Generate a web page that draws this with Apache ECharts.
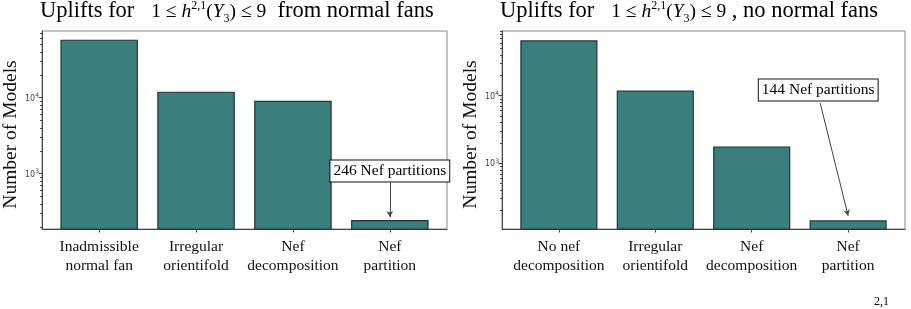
<!DOCTYPE html>
<html>
<head>
<meta charset="utf-8">
<script src="https://cdn.jsdelivr.net/npm/echarts@6/dist/echarts.min.js"></script>
<style>
html,body{margin:0;padding:0;background:#fff;}
#chart{width:911px;height:309px;}
</style>
</head>
<body>
<div id="chart"></div>
<script>
// 数据
var leftCats = ['Inadmissible\nnormal fan', 'Irregular\norientifold', 'Nef\ndecomposition', 'Nef\npartition'];
var leftVals = [58000, 12000, 9100, 246];
var rightCats = ['No nef\ndecomposition', 'Irregular\norientifold', 'Nef\ndecomposition', 'Nef\npartition'];
var rightVals = [66000, 11900, 1780, 144];
var majorTicks = [1000, 10000];
var leftNote = '246 Nef partitions';
var rightNote = '144 Nef partitions';

// 坐标范围 / 注释位置
var xMin = -0.59, xMax = 3.59;
var leftRange = [187, 75400];
var rightRange = [107, 90600];

var serif = '"Liberation Serif", "DejaVu Serif", serif';
var teal = '#3a7f7c';

// 次刻度 2..9 x 10^n
function minorTicks(range){
    var arr = [];
    for (var p = 1; p <= 5; p++) {
        for (var k = 2; k <= 9; k++) {
            var v = k * Math.pow(10, p);
            if (v > range[0] && v < range[1]) arr.push(v);
        }
    }
    return arr;
}

function titleText(tail){
    return '{n|Uplifts for   }{m|1 ≤ }{i|h}{sup|2,1}{m|(}{i|Y}{sub|3}{m|) ≤ 9}{n|' + tail + '}';
}
var titleRich = {
    n: {fontFamily: serif, fontSize: 22.5, fontWeight: 'normal', color: '#000', verticalAlign: 'bottom', padding: [0, 0, 3, 0]},
    m: {fontFamily: serif, fontSize: 19.5, fontWeight: 'normal', color: '#000', verticalAlign: 'bottom', padding: [0, 0, 4, 0]},
    i: {fontFamily: serif, fontSize: 19.5, fontWeight: 'normal', fontStyle: 'italic', color: '#000', verticalAlign: 'bottom', padding: [0, 0, 4, 0]},
    sup: {fontFamily: serif, fontSize: 12, fontWeight: 'normal', color: '#000', verticalAlign: 'bottom', padding: [0, 0, 14, 0]},
    sub: {fontFamily: serif, fontSize: 12, fontWeight: 'normal', color: '#000', verticalAlign: 'bottom', padding: [0, 0, 1, 0]}
};

var grids = [
    {left: 42, top: 31, width: 405, height: 198},
    {left: 502, top: 31, width: 403, height: 198}
];

function makeX(idx, cats){
    return {
        type: 'value', gridIndex: idx, min: xMin, max: xMax,
        splitLine: {show: false},
        axisLine: {onZero: false, lineStyle: {color: '#444', width: 1}},
        axisTick: {customValues: [0, 1, 2, 3], length: 3.5, lineStyle: {color: '#444'}},
        axisLabel: {
            customValues: [0, 1, 2, 3],
            formatter: function(v){ return cats[Math.round(v)]; },
            fontFamily: serif, fontSize: 15.5, color: '#111', lineHeight: 19, margin: 8
        }
    };
}
function makeYMajor(idx, range){
    return {
        type: 'log', logBase: 10, gridIndex: idx, min: range[0], max: range[1], position: 'left',
        name: 'Number of Models', nameLocation: 'middle', nameGap: 21,
        nameTextStyle: {fontFamily: serif, fontSize: 19.5, color: '#111', padding: [0, 9, 0, 0]},
        splitLine: {show: false},
        axisLine: {show: true, onZero: false, lineStyle: {color: '#444', width: 1}},
        axisTick: {customValues: majorTicks, length: 3.5, lineStyle: {color: '#444'}},
        axisLabel: {
            customValues: majorTicks, margin: 3,
            formatter: function(v){
                return '{b|10}{e|' + Math.round(Math.log(v) / Math.LN10) + '}';
            },
            rich: {
                b: {fontFamily: 'DejaVu Sans', fontSize: 8, color: '#444', verticalAlign: 'bottom'},
                e: {fontFamily: 'DejaVu Sans', fontSize: 6, color: '#444', verticalAlign: 'bottom', padding: [0, 0, 4, 0]}
            }
        }
    };
}
function makeYMinor(idx, range){
    return {
        type: 'log', logBase: 10, gridIndex: idx, min: range[0], max: range[1], position: 'left',
        splitLine: {show: false},
        axisLine: {show: false, onZero: false},
        axisLabel: {show: false},
        axisTick: {customValues: minorTicks(range), length: 2, lineStyle: {color: '#444'}}
    };
}

function makeBar(idx, vals, note, noteAt, arrowFrom, arrowTo){
    var data = [];
    for (var i = 0; i < vals.length; i++) data.push([i, vals[i]]);
    var g = grids[idx];
    return {
        type: 'bar', xAxisIndex: idx, yAxisIndex: idx * 2,
        data: data,
        barWidth: 0.8 * g.width / (xMax - xMin),
        clip: true,
        itemStyle: {color: teal, borderColor: '#1f3735', borderWidth: 1.2},
        markPoint: {
            symbol: 'rect', symbolSize: 0, silent: true,
            label: {
                show: true, position: 'inside', formatter: note,
                fontFamily: serif, fontSize: 15.5, color: '#000',
                backgroundColor: '#fff', borderColor: '#111', borderWidth: 1,
                padding: [3, 3, 2, 3]
            },
            data: [{coord: noteAt}]
        },
        markLine: {
            silent: true, symbol: ['none', 'arrow'], symbolSize: [5, 6],
            label: {show: false},
            lineStyle: {color: '#444', width: 1, type: 'solid'},
            data: [[{coord: arrowFrom}, {coord: arrowTo}]]
        }
    };
}

var chart = echarts.init(document.getElementById('chart'));
var option = {
    animation: false,
    title: [
        {text: titleText('  from normal fans'), left: 40, top: 0, padding: 0, textStyle: {fontWeight: 'normal', rich: titleRich}},
        {text: titleText(' , no normal fans'), left: 500, top: 0, padding: 0, textStyle: {fontWeight: 'normal', rich: titleRich}}
    ],
    grid: grids.map(function(g){
        return {left: g.left, top: g.top, width: g.width, height: g.height, show: true, borderColor: '#888', borderWidth: 1, backgroundColor: 'transparent'};
    }),
    xAxis: [makeX(0, leftCats), makeX(1, rightCats)],
    yAxis: [makeYMajor(0, leftRange), makeYMinor(0, leftRange), makeYMajor(1, rightRange), makeYMinor(1, rightRange)],
    series: [
        makeBar(0, leftVals, leftNote, [3, 1085], [3, 770], [3, 268]),
        makeBar(1, rightVals, rightNote, [2.69, 12150], [2.71, 7800], [3.0, 168])
    ],
    graphic: [
        {type: 'text', left: 874, top: 296, style: {text: '2,1', font: '12px ' + serif, fill: '#000'}}
    ]
};
chart.setOption(option);
</script>
</body>
</html>
